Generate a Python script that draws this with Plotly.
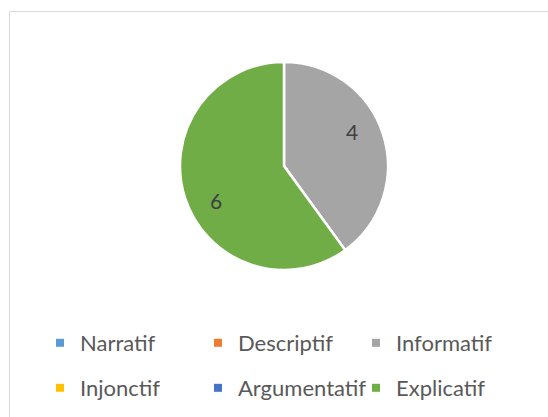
import math
import plotly.graph_objects as go

# categories and counts
labels = ["Narratif", "Descriptif", "Informatif", "Injonctif", "Argumentatif", "Explicatif"]
values = [0, 0, 4, 0, 0, 6]
colors = ["#5B9BD5", "#ED7D31", "#A5A5A5", "#FFC000", "#4472C4", "#70AD47"]

W, H = 548, 417
FONT = "Lato"

# pie placement (pixels)
cx, cy, R = 284, 166, 104

fig = go.Figure()
fig.add_trace(go.Pie(
    labels=labels,
    values=values,
    sort=False,
    direction="clockwise",
    rotation=0,
    marker=dict(colors=colors, line=dict(color="white", width=2.5)),
    textinfo="none",
    domain=dict(x=[(cx - R) / W, (cx + R) / W], y=[1 - (cy + R) / H, 1 - (cy - R) / H]),
    hoverinfo="label+value",
    showlegend=False,
))

# value labels, placed near the middle angle of each non-empty slice
total = sum(values)
start = 0.0
for lab, v in zip(labels, values):
    if v == 0:
        continue
    ang = (start + v / total / 2) * 2 * math.pi - 0.16
    start += v / total
    px = cx + 0.73 * R * math.sin(ang)
    py = cy - 0.73 * R * math.cos(ang)
    fig.add_annotation(x=px / W, y=1 - py / H, xref="paper", yref="paper",
                       xanchor="center", yanchor="middle",
                       text=str(v), showarrow=False,
                       font=dict(size=21, color="#404040", family=FONT))

# legend entries: two rows of three, like the original
for i, (lab, c) in enumerate(zip(labels, colors)):
    fig.add_trace(go.Scatter(
        x=[None], y=[None], mode="markers", name=lab,
        marker=dict(symbol="square", size=8, color=c),
        legend="legend" if i < 3 else "legend2",
    ))

leg = dict(
    orientation="h", xanchor="left", yanchor="middle",
    entrywidth=113, entrywidthmode="pixels",
    font=dict(size=22, color="#595959", family=FONT),
    traceorder="normal", itemclick=False, itemdoubleclick=False,
    bgcolor="rgba(0,0,0,0)",
)

# chart frame (only top and left edges fall inside the window)
fig.add_shape(type="rect", xref="paper", yref="paper",
              x0=9.5 / W, x1=1.2, y0=-0.2, y1=1 - 11.5 / H,
              line=dict(color="#D9D9D9", width=1), layer="below")

fig.update_layout(
    width=W, height=H,
    margin=dict(l=0, r=0, t=0, b=0),
    paper_bgcolor="white",
    plot_bgcolor="white",
    font=dict(family=FONT, color="#595959"),
    xaxis=dict(visible=False),
    yaxis=dict(visible=False),
    legend=dict(leg, x=40 / W, y=1 - 343 / H),
    legend2=dict(leg, x=40 / W, y=1 - 388 / H),
)

fig.write_html("out.html", config={"displayModeBar": False},
               post_script="document.body.style.margin='0';")
